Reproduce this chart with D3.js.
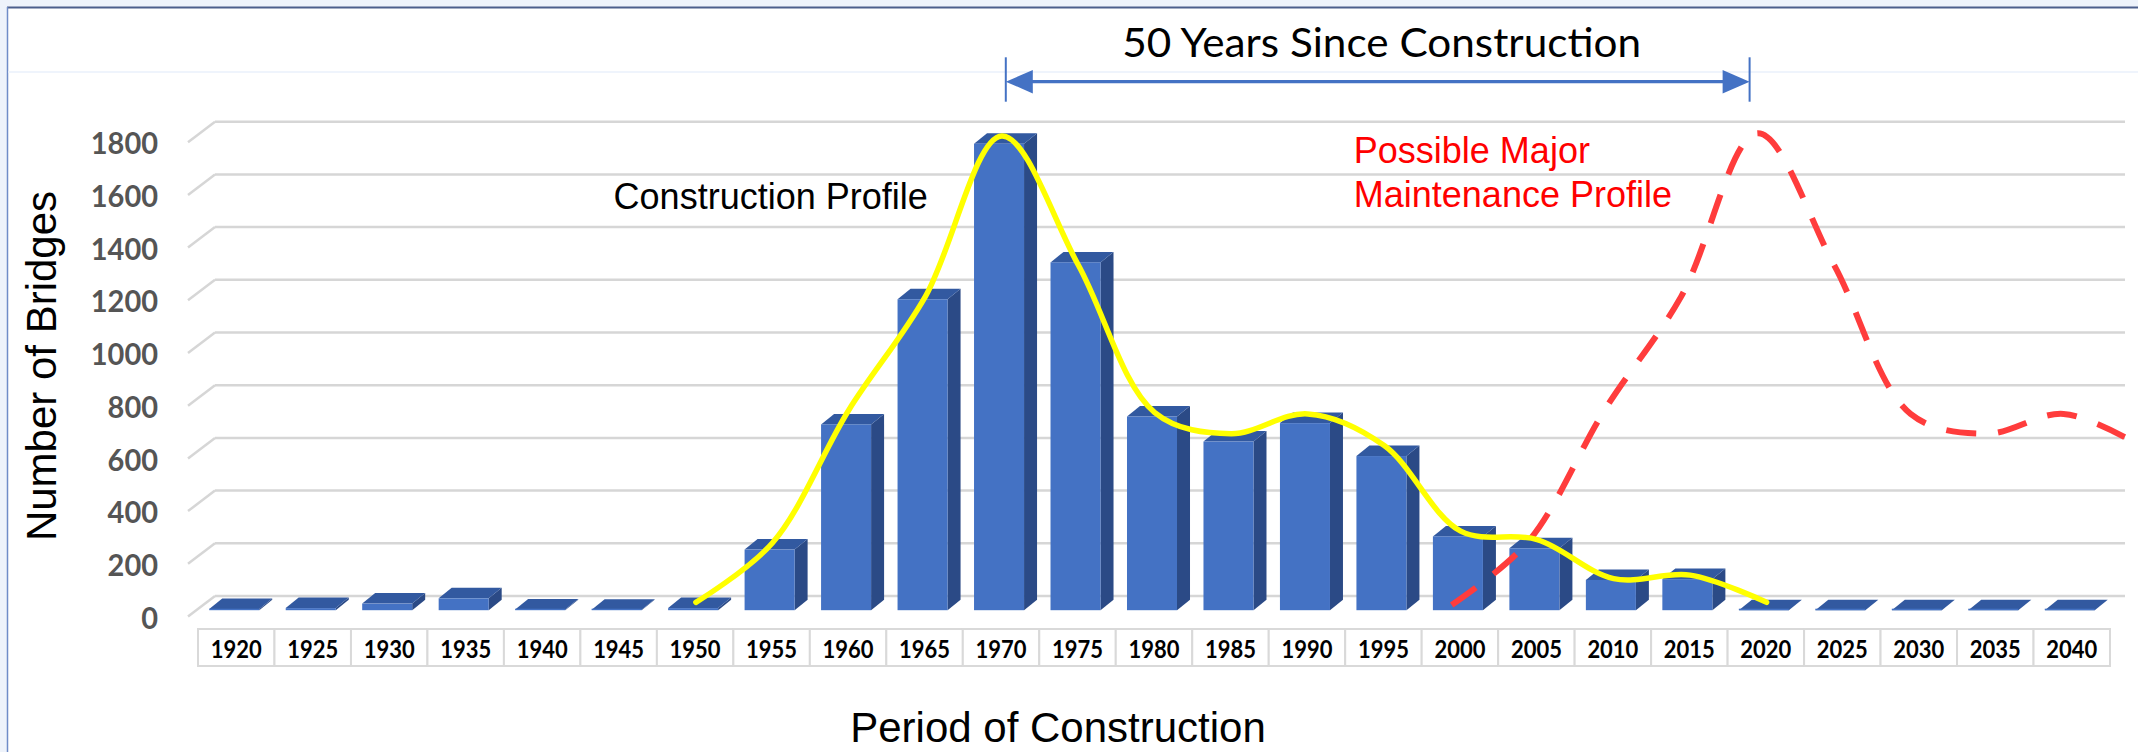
<!DOCTYPE html>
<html>
<head>
<meta charset="utf-8">
<script src="https://cdn.jsdelivr.net/npm/d3@7"></script>
<style>
body { margin: 0; background: #fff; }
svg { display: block; }
</style>
</head>
<body>
<div id="chart"></div>
<script>
// data
var years = [1920, 1925, 1930, 1935, 1940, 1945, 1950, 1955, 1960, 1965, 1970, 1975, 1980,
    1985, 1990, 1995, 2000, 2005, 2010, 2015, 2020, 2025, 2030, 2035, 2040];
var bridges = [5, 8, 25, 45, 3, 2, 8, 230, 705, 1180, 1770, 1320, 735,
    640, 710, 585, 280, 235, 115, 118, 0, 0, 0, 0, 0];
var yTicks = [0, 200, 400, 600, 800, 1000, 1200, 1400, 1600, 1800];

// construction profile (yellow)
var profileYears = [1950, 1955, 1960, 1965, 1970, 1975, 1980, 1985, 1990, 1995, 2000, 2005, 2010, 2015, 2020];
var profileValues = [30, 255, 760, 1190, 1800, 1310, 750, 670, 745, 625, 300, 268, 120, 133, 30];

// possible major maintenance profile (red dashes)
var maintYears = [2000, 2005, 2010, 2015, 2020, 2025, 2030, 2035, 2040, 2045];
var maintValues = [20, 260, 760, 1190, 1810, 1310, 745, 670, 745, 625];

var width = 2138, height = 752;
var svg = d3.select("#chart").append("svg").attr("width", width).attr("height", height);

// frame round the slide
svg.append("rect").attr("width", width).attr("height", 7).attr("fill", "#eef3fb");
svg.append("rect").attr("width", 7).attr("height", height).attr("fill", "#eef3fb");
svg.append("line").attr("x1", 7).attr("x2", width).attr("y1", 7.5).attr("y2", 7.5)
    .attr("stroke", "#4c5f8c").attr("stroke-width", 2);
svg.append("line").attr("x1", 7.5).attr("x2", 7.5).attr("y1", 7).attr("y2", height)
    .attr("stroke", "#6f8cc8").attr("stroke-width", 1.5);
svg.append("line").attr("x1", 8).attr("x2", width).attr("y1", 72).attr("y2", 72)
    .attr("stroke", "#eaf1fb").attr("stroke-width", 1.5);

// scales
var cell = d3.scaleBand().domain(years).range([198, 2110]);
var bar = d3.scaleBand().domain(years).range([198, 2110]).paddingInner(0.346).paddingOuter(0.173);
var y = d3.scaleLinear().domain([0, 1800]).range([616.5, 142.2]);
var xLine = d3.scaleLinear().domain([1920, 2040]).range([cell(1920) + 39, cell(2040) + 39]);

var wall = { x: 27, y: -20.5 };      // back wall offset
var barDepth = { x: 13, y: -10.5 };
var barShift = { x: -2, y: -6.3 };

// gridlines on the back wall + the little diagonals
var grid = svg.append("g").attr("class", "grid").attr("stroke", "#d6d6d6").attr("stroke-width", 2.5);
grid.selectAll("line.h").data(yTicks).enter().append("line").attr("class", "h")
    .attr("x1", 188 + wall.x).attr("x2", 2125)
    .attr("y1", function (d) { return y(d) + wall.y; })
    .attr("y2", function (d) { return y(d) + wall.y; });
grid.selectAll("line.d").data(yTicks).enter().append("line").attr("class", "d")
    .attr("x1", 188).attr("x2", 188 + wall.x)
    .attr("y1", function (d) { return y(d); })
    .attr("y2", function (d) { return y(d) + wall.y; });

// y axis labels
var yAxis = svg.append("g").attr("transform", "translate(158,2)")
    .call(d3.axisLeft(y).tickValues(yTicks).tickSize(0).tickPadding(0).tickFormat(d3.format("d")));
yAxis.select(".domain").remove();
yAxis.selectAll("text").attr("fill", "#555555")
    .attr("textLength", function (d) { return String(d).length * 16.8; })
    .attr("lengthAdjust", "spacingAndGlyphs")
    .style("font-family", "Lato, sans-serif").style("font-weight", "700").style("font-size", "30px");

// 3d columns
var barData = years.map(function (yr, i) { return { year: yr, value: bridges[i] }; });
var bars = svg.append("g").attr("transform", "translate(" + barShift.x + "," + barShift.y + ")");
var b = bars.selectAll("g").data(barData).enter().append("g");
b.append("path").attr("fill", "#2b4a86")
    .attr("d", function (d) {
        var x0 = bar(d.year) + bar.bandwidth(), yt = y(d.value), yb = y(0);
        return "M" + x0 + "," + yt + "l" + barDepth.x + "," + barDepth.y + "V" + (yb + barDepth.y) + "L" + x0 + "," + yb + "Z";
    });
b.append("path").attr("fill", "#3259a0")
    .attr("d", function (d) {
        var x0 = bar(d.year), yt = y(d.value);
        return "M" + x0 + "," + yt + "h" + bar.bandwidth() + "l" + barDepth.x + "," + barDepth.y + "h" + (-bar.bandwidth()) + "Z";
    });
b.append("rect").attr("fill", "#4472c4")
    .attr("x", function (d) { return bar(d.year); })
    .attr("y", function (d) { return Math.min(y(d.value), y(0) - 1.5); })
    .attr("width", bar.bandwidth())
    .attr("height", function (d) { return Math.max(y(0) - y(d.value), 1.5); });

// category table
var table = svg.append("g");
table.selectAll("rect").data(years).enter().append("rect")
    .attr("x", function (d) { return cell(d); }).attr("y", 629)
    .attr("width", cell.bandwidth()).attr("height", 37)
    .attr("fill", "#fff").attr("stroke", "#d9d9d9").attr("stroke-width", 2);
table.selectAll("text").data(years).enter().append("text")
    .attr("x", function (d) { return cell(d) + cell.bandwidth() / 2; }).attr("y", 658.3)
    .attr("text-anchor", "middle").attr("textLength", 51).attr("lengthAdjust", "spacingAndGlyphs")
    .style("font-family", "Lato, sans-serif").style("font-weight", "700").style("font-size", "25px")
    .text(function (d) { return d; });

// profile lines
var line = d3.line()
    .x(function (d) { return xLine(d[0]); })
    .y(function (d) { return y(d[1]) + barShift.y; })
    .curve(d3.curveCatmullRom.alpha(0.5));

svg.append("path").datum(maintYears.map(function (yr, i) { return [yr, maintValues[i]]; }))
    .attr("transform", "translate(-9,0)")
    .attr("d", line).attr("fill", "none").attr("stroke", "#ff3c3c")
    .attr("stroke-width", 6).attr("stroke-dasharray", "30,22");

svg.append("path").datum(profileYears.map(function (yr, i) { return [yr, profileValues[i]]; }))
    .attr("d", line).attr("fill", "none").attr("stroke", "#ffff00")
    .attr("stroke-width", 5.5).attr("stroke-linecap", "round");

// 50 years arrow
var aLeft = xLine(1970) + 4, aRight = xLine(2020) - 17, aY = 81.7;
var arrow = svg.append("g").attr("fill", "#4472c4").attr("stroke", "#4472c4");
arrow.append("line").attr("x1", aLeft + 20).attr("x2", aRight - 20).attr("y1", aY).attr("y2", aY).attr("stroke-width", 3.3);
arrow.append("path").attr("stroke", "none")
    .attr("d", "M" + aLeft + "," + aY + "l27,-11.7v23.4Z");
arrow.append("path").attr("stroke", "none")
    .attr("d", "M" + aRight + "," + aY + "l-27,-11.7v23.4Z");
arrow.append("line").attr("x1", aLeft).attr("x2", aLeft).attr("y1", 57.3).attr("y2", 101.7).attr("stroke-width", 2);
arrow.append("line").attr("x1", aRight).attr("x2", aRight).attr("y1", 57.3).attr("y2", 101.7).attr("stroke-width", 2);

svg.append("text").attr("x", (aLeft + aRight) / 2 + 4).attr("y", 56.7).attr("text-anchor", "middle")
    .attr("textLength", 519).attr("lengthAdjust", "spacingAndGlyphs")
    .style("font-family", "Lato, sans-serif").style("font-size", "41px")
    .text("50 Years Since Construction");

// annotations
var arial = "'Liberation Sans', Arial, sans-serif";
svg.append("text").attr("x", 613.6).attr("y", 208.5)
    .style("font-family", arial).style("font-size", "36px").attr("fill", "#000")
    .text("Construction Profile");
svg.append("text").attr("x", 1353.8).attr("y", 163.3)
    .style("font-family", arial).style("font-size", "36px").attr("fill", "#ff0000")
    .text("Possible Major");
svg.append("text").attr("x", 1353.8).attr("y", 206.7)
    .style("font-family", arial).style("font-size", "36px").attr("fill", "#ff0000")
    .text("Maintenance Profile");

// axis titles
svg.append("text").attr("transform", "translate(56,366)rotate(-90)").attr("text-anchor", "middle")
    .style("font-family", arial).style("font-size", "42px")
    .text("Number of Bridges");
svg.append("text").attr("x", 1058).attr("y", 741.7).attr("text-anchor", "middle")
    .style("font-family", arial).style("font-size", "42px")
    .text("Period of Construction");
</script>
</body>
</html>
